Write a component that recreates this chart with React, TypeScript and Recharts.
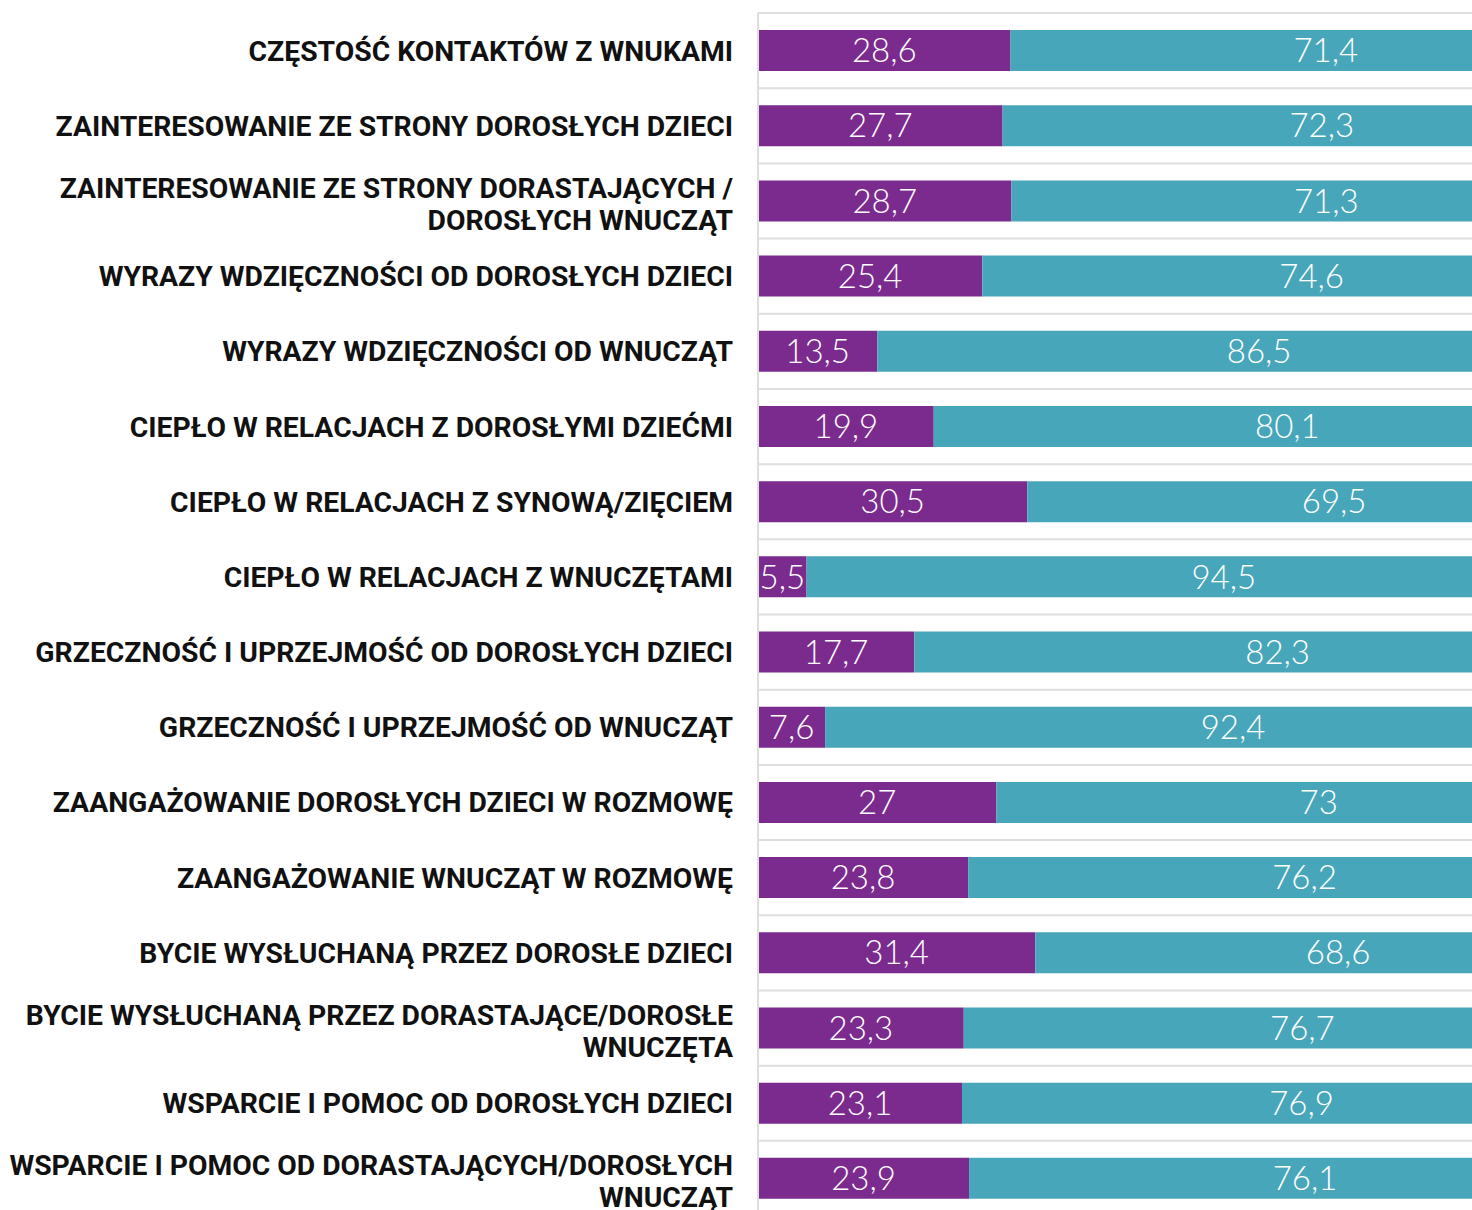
import { BarChart, Bar, XAxis, YAxis, CartesianGrid, LabelList } from "recharts";

// category labels, "\n" marks where the original wraps
const categories = [
  "CZĘSTOŚĆ KONTAKTÓW Z WNUKAMI",
  "ZAINTERESOWANIE ZE STRONY DOROSŁYCH DZIECI",
  "ZAINTERESOWANIE ZE STRONY DORASTAJĄCYCH /\nDOROSŁYCH WNUCZĄT",
  "WYRAZY WDZIĘCZNOŚCI OD DOROSŁYCH DZIECI",
  "WYRAZY WDZIĘCZNOŚCI OD WNUCZĄT",
  "CIEPŁO W RELACJACH Z DOROSŁYMI DZIEĆMI",
  "CIEPŁO W RELACJACH Z SYNOWĄ/ZIĘCIEM",
  "CIEPŁO W RELACJACH Z WNUCZĘTAMI",
  "GRZECZNOŚĆ I UPRZEJMOŚĆ OD DOROSŁYCH DZIECI",
  "GRZECZNOŚĆ I UPRZEJMOŚĆ OD WNUCZĄT",
  "ZAANGAŻOWANIE DOROSŁYCH DZIECI W ROZMOWĘ",
  "ZAANGAŻOWANIE WNUCZĄT W ROZMOWĘ",
  "BYCIE WYSŁUCHANĄ PRZEZ DOROSŁE DZIECI",
  "BYCIE WYSŁUCHANĄ PRZEZ DORASTAJĄCE/DOROSŁE\nWNUCZĘTA",
  "WSPARCIE I POMOC OD DOROSŁYCH DZIECI",
  "WSPARCIE I POMOC OD DORASTAJĄCYCH/DOROSŁYCH\nWNUCZĄT",
];

const purpleValues = [28.6, 27.7, 28.7, 25.4, 13.5, 19.9, 30.5, 5.5, 17.7, 7.6, 27, 23.8, 31.4, 23.3, 23.1, 23.9];
const tealValues = [71.4, 72.3, 71.3, 74.6, 86.5, 80.1, 69.5, 94.5, 82.3, 92.4, 73, 76.2, 68.6, 76.7, 76.9, 76.1];

const data = categories.map((name, i) => ({
  name,
  a: purpleValues[i],
  b: tealValues[i],
}));

const PURPLE = "#7b2a8e";
const TEAL = "#48a6ba";
const GRID = "#dedede";

const fmt = (v: any) => String(v).replace(".", ",");

function CategoryTick(props: any) {
  const { x, y, payload } = props;
  const lines = String(payload.value).split("\n");
  const lh = 32;
  // wrapped labels sit a touch lower in the original
  const start = lines.length > 1 ? -lh / 2 + 13 : 10;
  return (
    <text
      x={x}
      y={y}
      textAnchor="end"
      fill="#111"
      fontFamily="Roboto, sans-serif"
      fontWeight={700}
      fontSize={28.3}
    >
      {lines.map((l, i) => (
        <tspan key={i} x={x} dy={i === 0 ? start : lh}>
          {l}
        </tspan>
      ))}
    </text>
  );
}

const valueLabelStyle = {
  fill: "#fff",
  fontFamily: "Lato, sans-serif",
  fontWeight: 300,
  fontSize: 33,
};

export default function App() {
  return (
    <div
      style={{
        position: "absolute",
        left: 0,
        top: 0,
        width: 1472,
        height: 1210,
        overflow: "hidden",
        background: "#fff",
      }}
    >
      <BarChart
        width={1641}
        height={1216}
        data={data}
        layout="vertical"
        margin={{ top: 13, right: 0, bottom: 0, left: 0 }}
        barSize={41}
      >
        <CartesianGrid
          vertical={false}
          stroke={GRID}
          strokeWidth={2}
          horizontalCoordinatesGenerator={({ offset }: any) =>
            Array.from(
              { length: data.length + 1 },
              (_, i) => offset.top + (i * offset.height) / data.length
            )
          }
        />
        <XAxis type="number" domain={[0, 100]} hide />
        <YAxis
          type="category"
          dataKey="name"
          width={758}
          interval={0}
          tickLine={false}
          tickSize={0}
          tickMargin={25}
          axisLine={{ stroke: GRID, strokeWidth: 2 }}
          tick={<CategoryTick />}
        />
        <Bar dataKey="a" stackId="s" fill={PURPLE} isAnimationActive={false}>
          <LabelList dataKey="a" position="center" formatter={fmt} style={valueLabelStyle} />
        </Bar>
        <Bar dataKey="b" stackId="s" fill={TEAL} isAnimationActive={false}>
          <LabelList dataKey="b" position="center" formatter={fmt} style={valueLabelStyle} />
        </Bar>
      </BarChart>
    </div>
  );
}
